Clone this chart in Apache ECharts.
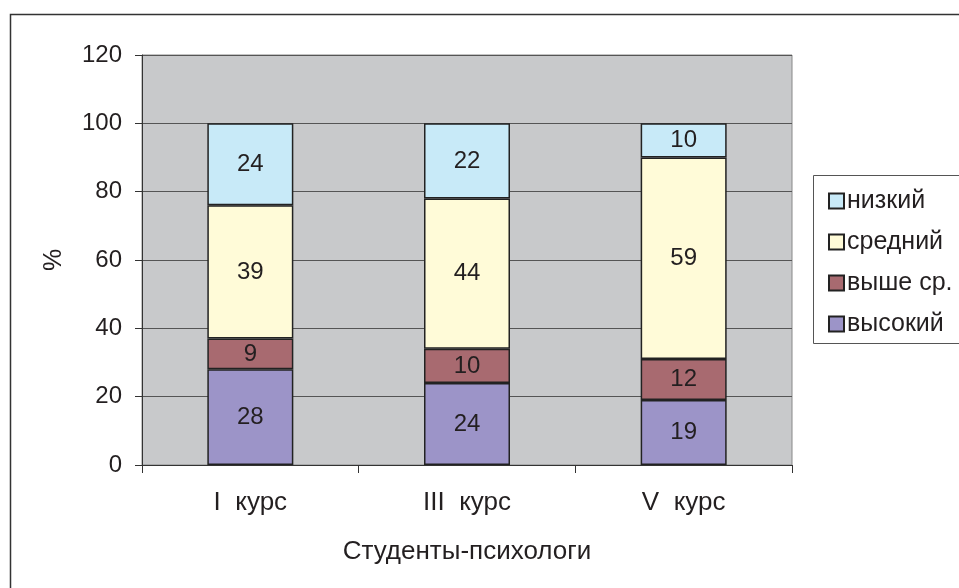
<!DOCTYPE html>
<html><head><meta charset="utf-8">
<script src="https://cdn.jsdelivr.net/npm/echarts@6/dist/echarts.min.js"></script>
<style>html,body{margin:0;padding:0;background:#fff}#c{width:959px;height:588px}</style>
</head><body><div id="c"></div>
<script>
const categories = ['I  курс', 'III  курс', 'V  курс'];
const seriesNames = ['высокий', 'выше ср.', 'средний', 'низкий'];
const vysokiy = [28, 24, 19];
const vysheSr = [9, 10, 12];
const sredniy = [39, 44, 59];
const nizkiy = [24, 22, 10];
const yTicks = [0, 20, 40, 60, 80, 100, 120];
const colors = ['#9C94C8', '#A86A70', '#FFFBD8', '#C8EAF8'];
const values = [vysokiy, vysheSr, sredniy, nizkiy];

const font = 'Liberation Sans, Arial, sans-serif';
const fs = 24;
const fsc = 26;
const tc = '#231F20';
const chart = echarts.init(document.getElementById('c'));
chart.setOption({
  animation: false,
  textStyle: { fontFamily: font },
  graphic: [{
    type: 'rect', left: 8, top: 12, z: 100,
    shape: { x: 0, y: 0, width: 1000, height: 700 },
    style: { fill: 'none', stroke: '#333', lineWidth: 1.5 }
  }, {
    type: 'rect', left: 813, top: 175, z: 1,
    shape: { x: 0, y: 0, width: 200, height: 168 },
    style: { fill: '#fff', stroke: '#555', lineWidth: 1 }
  }],
  grid: { left: 142, top: 55, right: 167, bottom: 123, show: true,
    backgroundColor: '#C8C9CB', borderColor: '#888', borderWidth: 1 },
  legend: {
    data: seriesNames.slice().reverse(),
    orient: 'vertical', left: 823, top: 183,
    itemWidth: 15, itemHeight: 15, itemGap: 15,
    icon: 'rect',
    textStyle: { fontSize: 25, lineHeight: 26, color: tc, fontFamily: font, padding: [0,0,0,-2] }
  },
  xAxis: {
    type: 'category', data: categories,
    name: 'Студенты-психологи', nameLocation: 'middle', nameGap: 74,
    nameTextStyle: { fontSize: fsc, color: tc, fontFamily: font },
    axisLine: { lineStyle: { color: '#333', width: 1 } },
    axisTick: { show: true, length: 8, lineStyle: { color: '#333' } },
    axisLabel: { fontSize: fsc, color: tc, margin: 25, fontFamily: font },
  },
  yAxis: {
    type: 'value', min: 0, max: 120, interval: 20,
    name: '%', nameLocation: 'middle', nameGap: 75, nameRotate: 90,
    nameTextStyle: { fontSize: 25, color: tc, fontFamily: font },
    axisLine: { show: true, lineStyle: { color: '#333' } },
    axisTick: { show: true, length: 7, lineStyle: { color: '#333' } },
    axisLabel: { fontSize: fs, color: tc, margin: 20, fontFamily: font,
      formatter: v => yTicks.includes(v) ? String(v) : '' },
    splitLine: { lineStyle: { color: '#555', width: 1 } }
  },
  series: seriesNames.map((n, i) => ({
    name: n, type: 'bar', stack: 'a', barWidth: 86,
    data: values[i],
    itemStyle: { color: colors[i], borderColor: '#222', borderWidth: 1.5 },
    label: { show: true, position: 'inside', fontSize: fs, color: tc, fontFamily: font }
  }))
});
</script></body></html>
